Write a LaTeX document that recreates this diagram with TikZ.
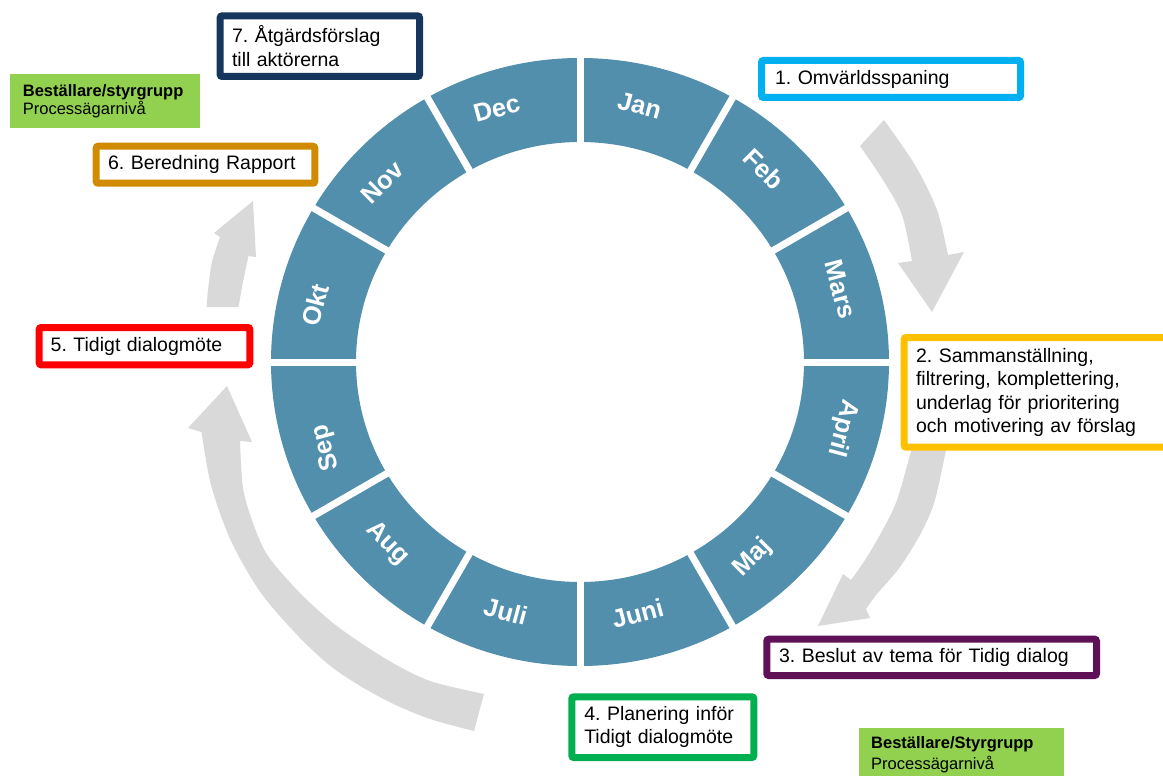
\documentclass[tikz,border=0pt]{standalone}
\usepackage{fontspec}
\setmainfont{Liberation Sans}
\usetikzlibrary{calc}
\definecolor{ringblue}{RGB}{82,143,173}
\definecolor{arrowgrey}{RGB}{217,217,217}
\definecolor{cOne}{RGB}{0,176,240}
\definecolor{cTwo}{RGB}{255,192,0}
\definecolor{cThree}{RGB}{94,17,87}
\definecolor{cFour}{RGB}{0,176,80}
\definecolor{cFive}{RGB}{255,0,0}
\definecolor{cSix}{RGB}{209,139,0}
\definecolor{cSeven}{RGB}{23,54,93}
\definecolor{lgreen}{RGB}{146,208,80}
\frenchspacing
\begin{document}
\begin{tikzpicture}[x=1pt,y=-1pt,
  stagebox/.style={draw=#1, line width=7pt, fill=white, rounded corners=2pt,
    anchor=north west, align=left, inner ysep=0pt, text=black,
    font=\fontsize{19.5}{23.4}\selectfont},
  monthlabel/.style={text=white, font=\bfseries\fontsize{25.5}{30}\selectfont, inner sep=0pt},
  rolebox/.style={fill=lgreen, anchor=north west, align=left, inner ysep=0pt, text=black},
  greyarrow/.style={fill=arrowgrey}]
\useasboundingbox (0,0) rectangle (1163,776);
\clip (0,0) rectangle (1163,776);

% grey cycle arrows
\fill[greyarrow] plot[smooth] coordinates {(884,120) (915,165) (937,210) (948,255)}
  -- (964,252) -- (932,312) -- (898,263)
  -- plot[smooth] coordinates {(912,261) (902,215) (883,180) (860,146)} -- cycle;
\fill[greyarrow] plot[smooth] coordinates {(948,440) (935,500) (921,533) (900,567) (877,594) (866,609)}
  -- (870,618) -- (818,626) -- (843,574)
  -- plot[smooth] coordinates {(851,580) (865,560) (881,533) (897,500) (914,440)} -- cycle;
\fill[greyarrow] plot[smooth] coordinates {(474,731) (433,720) (400,707) (367,690) (333,668) (300,638) (261,593) (231,541) (211,485) (201.5,432)}
  -- (188,428) -- (227,386) -- (252,442)
  -- plot[smooth] coordinates {(240,441) (243,488) (253,523) (268,556) (300,593) (333,623) (367,647) (400,667) (433,682) (484,694)} -- cycle;
\fill[greyarrow] plot[smooth] coordinates {(206.7,307) (208,290) (212,262) (220,237)}
  -- (214,233) -- (253,201) -- (256,257)
  -- plot[smooth] coordinates {(248.5,256) (243,282) (238.5,307)} -- cycle;

% month ring
\coordinate (C) at (580,362);
\fill[ringblue, even odd rule] (C) ellipse [x radius=309pt, y radius=304pt]
  (C) ellipse [x radius=224pt, y radius=220pt];
\foreach \a in {0,30,...,330}
  \draw[white, line width=7pt] ($(C)+(\a:210pt)$) -- ($(C)+(\a:325pt)$);
\foreach \m/\x/\y/\r in {Jan/639.6/105.4/-15, Feb/764/169.4/-45, Mars/840.4/289.4/-75,
  April/842.4/428.2/-105, Maj/752.7/557.5/45, Juni/637.6/613.4/15,
  Juli/505.7/611.3/-15, Aug/387.3/544/-45, Sep/326.1/448/105,
  Okt/315.1/305/75, Nov/382.4/182/45, Dec/496.7/108.4/15}
  \node[monthlabel, rotate=\r] (m\m) at (\x,\y) {\m};

% stage boxes (anchor = outer edge of the 7pt border)
\node[stagebox=cOne, minimum width=259pt, minimum height=37pt, inner xsep=13.5pt, text width=232pt]
  (s1) at (758,57) {1. Omvärldsspaning};
\node[stagebox=cTwo, minimum height=109.7pt, inner xsep=11.8pt, text width=250pt]
  (s2) at (900.7,334) {2. Sammanställning,\\filtrering, komplettering,\\underlag för prioritering\\och motivering av förslag};
\node[stagebox=cThree, minimum height=36.3pt, inner xsep=12.2pt, text width=305.3pt]
  (s3) at (763.3,635.7) {3. Beslut av tema för Tidig dialog};
\node[stagebox=cFour, minimum height=60.7pt, inner xsep=12.5pt, text width=157pt]
  (s4) at (568.3,693.3) {4. Planering inför\\Tidigt dialogmöte};
\node[stagebox=cFive, minimum height=37.3pt, inner xsep=11.5pt, text width=187.6pt]
  (s5) at (35.7,324) {5. Tidigt dialogmöte};
\node[stagebox=cSix, minimum height=37pt, inner xsep=11.8pt, text width=195pt]
  (s6) at (92.7,142.7) {6. Beredning Rapport};
\node[stagebox=cSeven, minimum height=60.7pt, inner xsep=11.8pt, text width=175.7pt]
  (s7) at (216.7,12.3) {7. Åtgärdsförslag\\till aktörerna};

% role boxes
\node[rolebox, minimum height=53.7pt, inner xsep=12.7pt, text width=164.6pt,
  font=\fontsize{16.5}{18.5}\selectfont]
  (r1) at (10,74) {\textbf{Beställare/styrgrupp}\\Processägarnivå};
\node[rolebox, minimum height=55pt, inner xsep=12.7pt, text width=180.3pt,
  font=\fontsize{16.5}{20.7}\selectfont]
  (r2) at (858.3,727.3) {\textbf{Beställare/Styrgrupp}\\Processägarnivå};
\end{tikzpicture}
\end{document}
